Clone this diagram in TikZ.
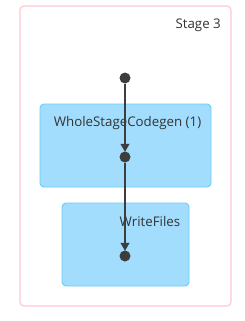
\documentclass[tikz,border=0pt]{standalone}
\usepackage{fontspec}
\setmainfont{Open Sans}
\usepackage{xcolor}
\usetikzlibrary{arrows, positioning}

\definecolor{stagepink}{HTML}{FFC6D0}
\definecolor{opfill}{HTML}{A2DDFD}
\definecolor{opline}{HTML}{6ACBF5}
\definecolor{dotgray}{HTML}{3D3D3D}
\definecolor{txtgray}{HTML}{333333}

\begin{document}
\begin{tikzpicture}[
    x=1pt, y=-1pt,
    stage/.style={draw=stagepink, line width=1.2pt, rounded corners=4pt, minimum width=211pt, minimum height=300pt},
    op/.style={draw=opline, fill=opfill, line width=0.9pt, rounded corners=4pt, minimum height=83pt},
    dot/.style={circle, fill=dotgray, inner sep=0pt, minimum size=11pt},
    lbl/.style={text=txtgray, font=\fontsize{13.3}{15}\selectfont, inner sep=0pt},
    arrow/.style={line width=1.2pt, draw=dotgray, -triangle 60, shorten >=-0.5pt}
]
\useasboundingbox (0,0) rectangle (245,321);
\node[stage] (S3) at (125.5,156) {};
\node[lbl, anchor=east] (S3t) at (221,25) {Stage 3};

\node[op, minimum width=171pt] (WSC) at (125.5,145.5) {};
\node[lbl] (WSCt) at (127.5,123) {WholeStageCodegen (1)};
\node[op, minimum width=127pt] (WF) at (125.5,244.5) {};
\node[lbl] (WFt) at (150,222) {WriteFiles};

\node[dot] (D1) at (125,78) {};
\node[dot] (D2) at (125,157) {};
\node[dot] (D3) at (125,256) {};

\draw[arrow] (D1) -- (D2);
\draw[arrow] (D2) -- (D3);
\end{tikzpicture}
\end{document}
